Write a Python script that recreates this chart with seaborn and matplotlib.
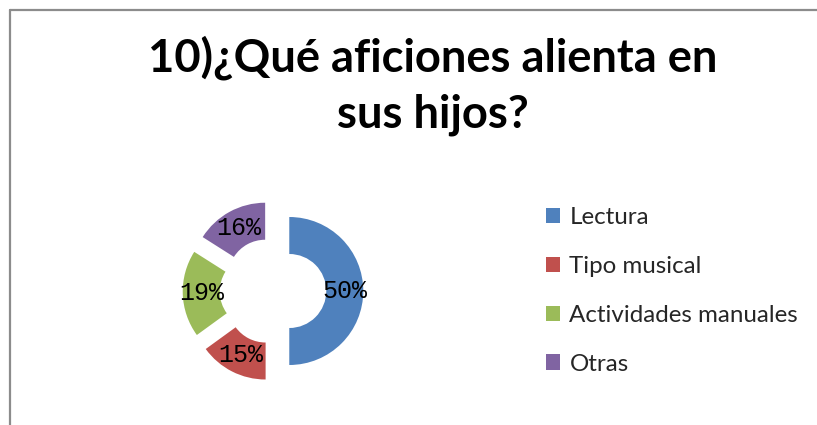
import seaborn as sns
import matplotlib.pyplot as plt
from matplotlib.patches import Patch
from matplotlib.lines import Line2D

# ========= datos =========
categorias = ["Lectura", "Tipo musical", "Actividades manuales", "Otras"]
valores = [50, 15, 19, 16]
titulo = "10)¿Qué aficiones alienta en\nsus hijos?"
colores = ["#4F81BD", "#C0504D", "#9BBB59", "#8064A2"]
# =========================

sns.set_theme(style="white")
plt.rcParams["font.family"] = ["Lato", "DejaVu Sans"]

W, H = 817, 425
fig = plt.figure(figsize=(W / 100, H / 100), dpi=100)
fig.patch.set_facecolor("white")

# ejes del anillo: centro (273, 291) px, radio 74 px
cx, cy, r = 273, 291, 74
half = 1.5 * r
ax = fig.add_axes([(cx - half) / W, (H - cy - half) / H, 2 * half / W, 2 * half / H])
wedges, textos, pcts = ax.pie(
    valores,
    colors=colores,
    startangle=90,
    counterclock=False,
    explode=[0.22] * len(valores),
    autopct="%1.0f%%",
    pctdistance=0.75,
    wedgeprops=dict(width=0.5, linewidth=0),
    textprops=dict(family="Liberation Mono", fontsize=18, color="black"),
)
ax.set_xlim(-1.5, 1.5)
ax.set_ylim(-1.5, 1.5)
ax.axis("off")

# titulo
fig.text(433 / W, 1 - 86 / H, titulo, ha="center", va="center",
         fontsize=32.7, fontweight="bold", linespacing=1.4, color="black")

# leyenda
handles = [Patch(facecolor=c, edgecolor="none") for c in colores]
fig.legend(handles, categorias, loc="center left",
           bbox_to_anchor=(524 / W, 1 - 291 / H), frameon=False,
           fontsize=17.4, handlelength=0.6, handleheight=0.6,
           handletextpad=0.38, labelspacing=1.15)

# marco
fig.add_artist(Line2D([10 / W, 10 / W], [0, 1 - 10 / H], color="#8c8c8c", lw=1.6))
fig.add_artist(Line2D([10 / W, 1.01], [1 - 10 / H, 1 - 10 / H], color="#8c8c8c", lw=1.6))

fig.savefig("out.png", dpi=100, facecolor="white")
